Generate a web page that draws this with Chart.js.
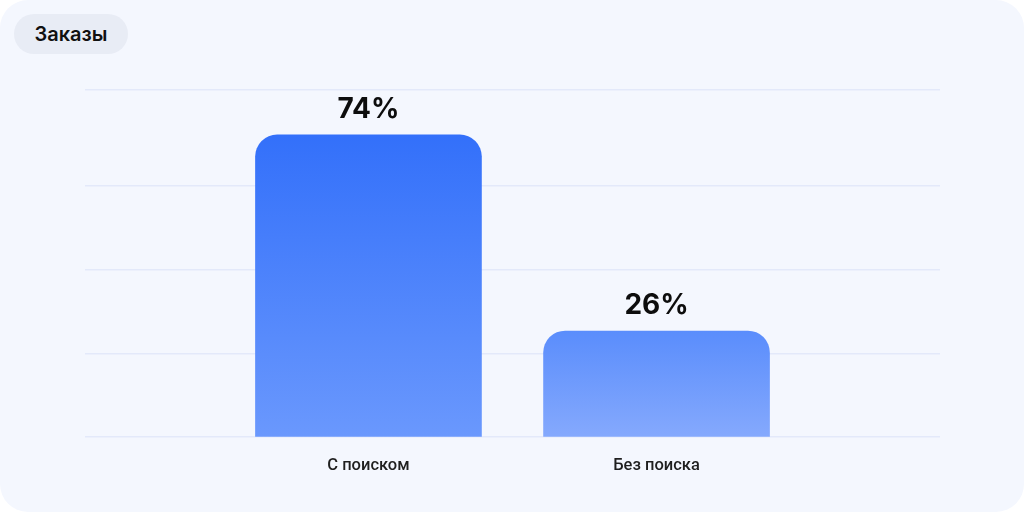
<!DOCTYPE html>
<html>
<head>
<meta charset="utf-8">
<script src="https://cdn.jsdelivr.net/npm/chart.js@4/dist/chart.umd.min.js"></script>
<style>
  html, body { margin: 0; padding: 0; background: #ffffff; }
  #card {
    position: relative;
    width: 1024px; height: 512px;
    background: #F4F7FE;
    border-radius: 28px;
    overflow: hidden;
  }
  #badge {
    position: absolute; left: 14px; top: 14px;
    width: 114px; height: 40px;
    border-radius: 20px;
    background: #E8ECF5;
    font: 600 20px Inter, sans-serif;
    color: #111;
    line-height: 40px;
    text-align: center;
  }
  canvas { position: absolute; left: 0; top: 0; }
</style>
</head>
<body>
<div id="card">
  <canvas id="orders" width="1024" height="512"></canvas>
  <div id="badge">Заказы</div>
</div>
<script>
var categories = ['С поиском', 'Без поиска'];
var shares = [74, 26];
var categoryPositions = [1, 2];
var gridValues = [0, 20.5, 41, 61.5, 85];

var topColors = ['#3370FA', '#5A8DFC'];
var bottomColors = ['#6A98FD', '#85A9FD'];

function barFill(context) {
	var chart = context.chart;
	var i = context.dataIndex;
	if (!chart.chartArea || i === undefined) {
		return topColors[0];
	}
	var y = chart.scales.y;
	var top = y.getPixelForValue(shares[i]);
	var bottom = y.getPixelForValue(0);
	var g = chart.ctx.createLinearGradient(0, top, 0, bottom);
	g.addColorStop(0, topColors[i]);
	g.addColorStop(1, bottomColors[i]);
	return g;
}

var valueLabels = {
	id: 'valueLabels',
	afterDatasetsDraw: function(chart) {
		var ctx = chart.ctx;
		var meta = chart.getDatasetMeta(0);
		ctx.save();
		ctx.font = '700 28px Inter, sans-serif';
		ctx.fillStyle = '#0d0d0d';
		ctx.textAlign = 'center';
		ctx.textBaseline = 'alphabetic';
		meta.data.forEach(function(bar, i) {
			ctx.fillText(shares[i] + '%', bar.x, bar.y - 17);
		});
		ctx.restore();
	}
};

var chartdata = {
	datasets: [{
		data: categoryPositions.map(function(x, i) { return {x: x, y: shares[i]}; }),
		backgroundColor: barFill,
		borderWidth: 0,
		borderSkipped: 'bottom',
		borderRadius: {topLeft: 22, topRight: 22, bottomLeft: 0, bottomRight: 0},
		barThickness: 226
	}]
};

var ctx = document.getElementById('orders');

new Chart(ctx, {
	type: 'bar',
	data: chartdata,
	plugins: [valueLabels],
	options: {
		responsive: false,
		animation: false,
		layout: { padding: { left: 85, right: 84, top: 90, bottom: 17 } },
		plugins: {
			legend: { display: false },
			tooltip: { enabled: false }
		},
		scales: {
			x: {
				type: 'linear',
				offset: false,
				min: 0.016,
				max: 2.984,
				grid: { display: false, drawTicks: false, offset: false },
				border: { display: false },
				afterBuildTicks: function(scale) {
					scale.ticks = categoryPositions.map(function(v) { return {value: v}; });
				},
				ticks: {
					padding: 19,
					color: '#1f1f1f',
					font: { family: 'Roboto', size: 16.5, weight: '500' },
					callback: function(v) { return categories[categoryPositions.indexOf(v)]; }
				}
			},
			y: {
				min: 0,
				max: 85,
				border: { display: false },
				grid: { color: '#E3E9FA', lineWidth: 1.5, drawTicks: false },
				afterBuildTicks: function(scale) {
					scale.ticks = gridValues.map(function(v) { return {value: v}; });
				},
				ticks: { display: false }
			}
		}
	}
});
</script>
</body>
</html>
